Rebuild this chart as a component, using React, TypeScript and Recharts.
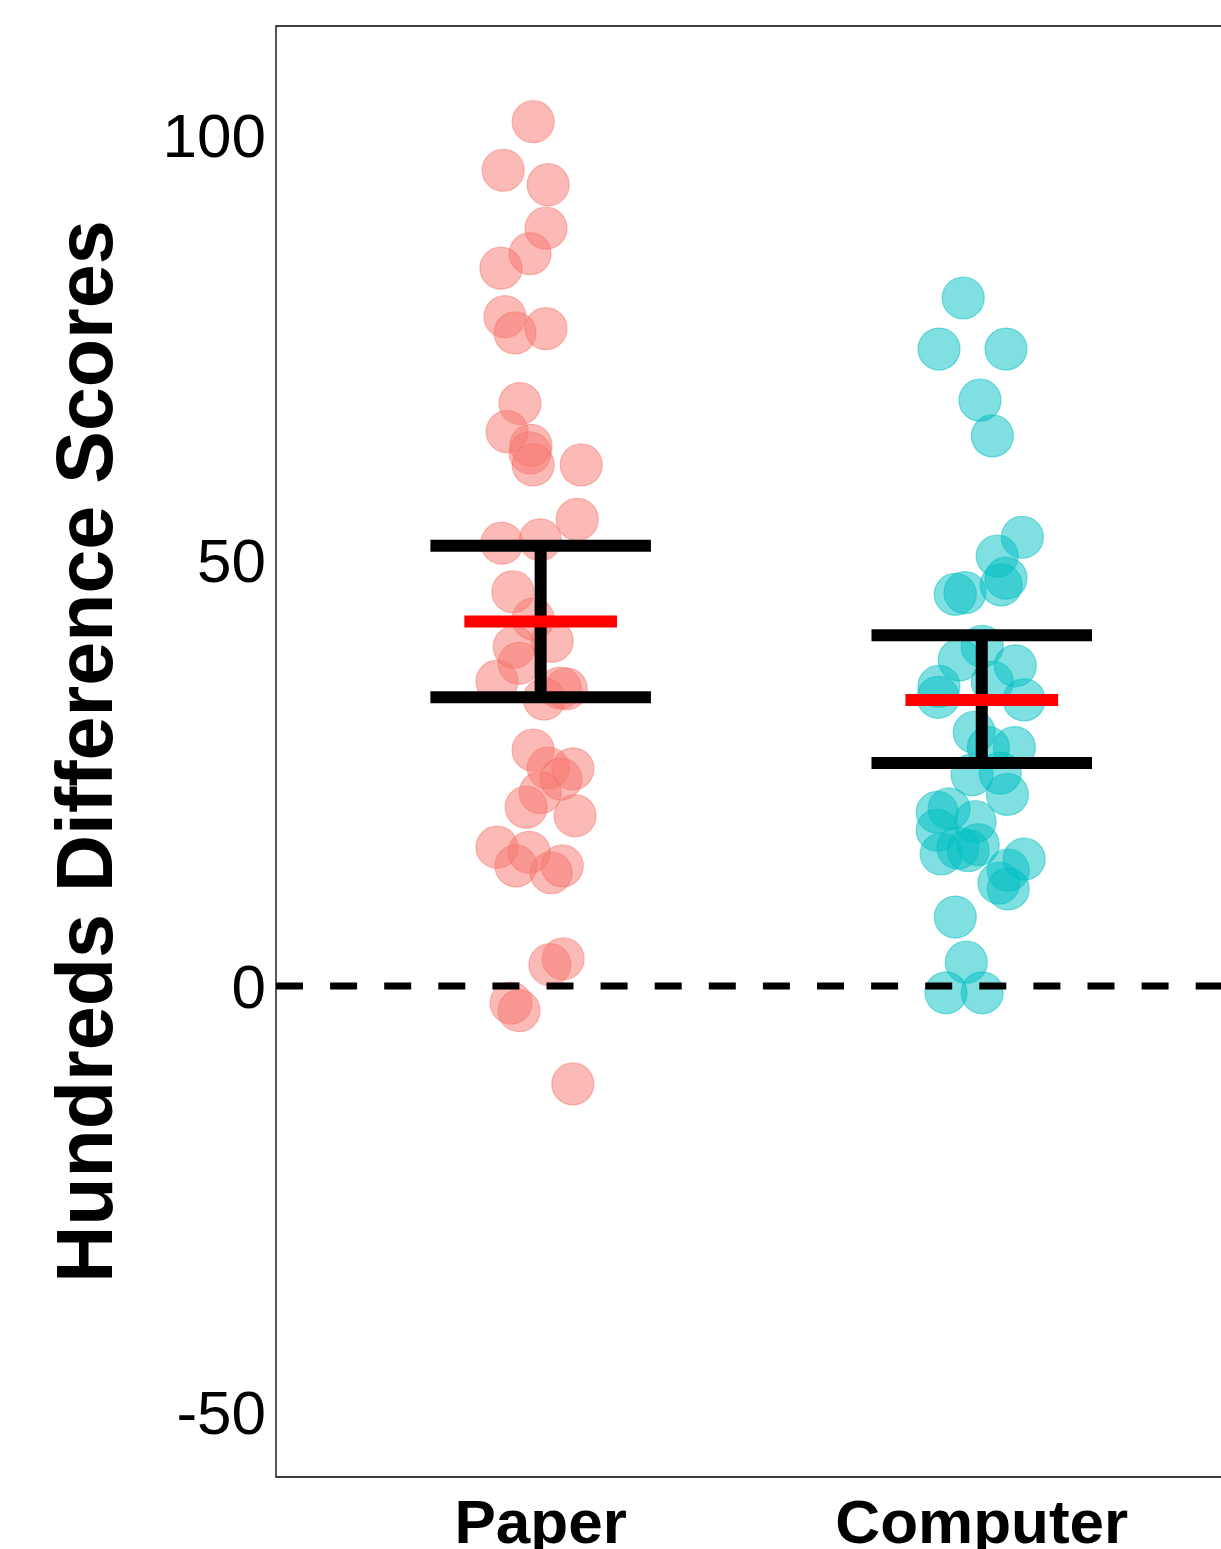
import React from 'react'
import {
  ScatterChart, Scatter, XAxis, YAxis, ReferenceLine, ReferenceArea, Label,
} from 'recharts'

// group names, one per x position
const categories = ['Paper', 'Computer']

// individual scores, with the horizontal jitter (in category units)
const paperScores = [101.5, 95.8, 94.1, 89.0, 86.0, 84.3, 78.6, 76.7, 77.2, 68.4, 65.1, 63.5, 62.6, 61.2, 61.2, 54.8, 52.0, 52.4, 46.3, 43.1, 40.5, 39.8, 37.9, 35.8, 34.9, 35.0, 33.7, 27.7, 25.6, 25.5, 24.3, 22.7, 21.0, 20.0, 16.3, 15.7, 14.1, 14.1, 13.3, 2.5, 3.2, -2.0, -2.9, -11.5]
const paperJitter = [-0.017, -0.085, 0.017, 0.012, -0.024, -0.090, -0.081, -0.058, 0.012, -0.047, -0.076, -0.022, -0.024, -0.017, 0.092, 0.083, -0.088, -0.001, -0.063, -0.017, 0.026, -0.060, -0.049, -0.099, 0.058, 0.044, 0.008, -0.017, 0.017, 0.073, 0.046, -0.001, -0.033, 0.078, -0.099, -0.026, -0.056, 0.049, 0.024, 0.021, 0.051, -0.067, -0.049, 0.073]

const computerScores = [80.8, 74.8, 74.8, 68.8, 64.6, 52.7, 50.5, 47.9, 47.1, 46.0, 46.2, 39.9, 38.3, 37.6, 35.2, 33.9, 35.7, 33.6, 29.8, 28.0, 28.0, 24.8, 25.0, 22.5, 20.8, 20.4, 19.3, 18.3, 16.2, 15.5, 15.9, 16.6, 14.9, 13.6, 12.1, 11.4, 8.1, 2.8, -0.8, -0.8]
const computerJitter = [-0.042, -0.097, 0.055, -0.004, 0.024, 0.092, 0.035, 0.055, 0.044, -0.060, -0.038, 0.001, -0.051, 0.076, -0.097, -0.099, 0.024, 0.096, -0.017, 0.015, 0.074, -0.022, 0.042, 0.058, -0.074, -0.101, -0.015, -0.101, -0.054, -0.092, -0.031, -0.008, 0.096, 0.060, 0.039, 0.060, -0.060, -0.035, -0.081, 0.001]

// group mean and interval ends
const means = [42.8, 33.6]
const lowers = [33.9, 26.2]
const uppers = [51.7, 41.2]

const yTicks = [-50, 0, 50, 100]

const COLORS = ['#F8766D', '#00BFC4']
const FONT = '"Liberation Sans", Arial, Helvetica, sans-serif'

const CHART_W = 1224
const CHART_H = 1549
const PLOT_LEFT = 276
const PLOT_TOP = 26
const X_AXIS_H = 72
const PLOT_BOTTOM = CHART_H - X_AXIS_H
const UNIT_PX = 441.1
const X_MIN = 0.4
const X_MAX = X_MIN + (CHART_W - PLOT_LEFT) / UNIT_PX
const Y_MIN = -57.66
const Y_MAX = 112.74
const CAP_HALF = 0.25
const MEAN_HALF = 0.173
const TOP_Z = 1500

const paperData = paperScores.map((v, i) => ({ x: 1 + paperJitter[i], y: v }))
const computerData = computerScores.map((v, i) => ({ x: 2 + computerJitter[i], y: v }))

const makeDot = (color: string) => (props: any) => (
  <circle
    cx={props.cx}
    cy={props.cy}
    r={21}
    fill={color}
    fillOpacity={0.5}
    stroke={color}
    strokeOpacity={0.5}
    strokeWidth={1.2}
  />
)

const XTick = ({ x, payload }: any) => (
  <text x={x} y={PLOT_BOTTOM + 66} textAnchor="middle" fontSize={62} fontWeight="bold" fontFamily={FONT} fill="#000">
    {categories[payload.value - 1]}
  </text>
)

const YTick = ({ y, payload }: any) => (
  <text x={PLOT_LEFT - 10} y={y} dy="0.358em" textAnchor="end" fontSize={62} fontFamily={FONT} fill="#000">
    {payload.value}
  </text>
)

const YTitle = ({ viewBox }: any) => {
  const cy = viewBox.y + viewBox.height / 2
  return (
    <text
      x={112}
      y={cy}
      transform={`rotate(-90, 112, ${cy})`}
      textAnchor="middle"
      fontSize={79}
      fontWeight="bold"
      fontFamily={FONT}
      fill="#000"
    >
      Hundreds Difference Scores
    </text>
  )
}

export default function App() {
  return (
    <div style={{ position: 'absolute', left: 0, top: 0, width: 1221, height: 1549, overflow: 'hidden', background: '#fff' }}>
      <ScatterChart width={CHART_W} height={CHART_H} margin={{ top: PLOT_TOP, right: 0, bottom: 0, left: 0 }}>
        <XAxis
          type="number"
          dataKey="x"
          domain={[X_MIN, X_MAX]}
          ticks={[1, 2]}
          interval={0}
          allowDataOverflow
          height={X_AXIS_H}
          axisLine={false}
          tickLine={false}
          tick={<XTick />}
        />
        <YAxis
          type="number"
          dataKey="y"
          domain={[Y_MIN, Y_MAX]}
          ticks={yTicks}
          interval={0}
          allowDataOverflow
          width={PLOT_LEFT}
          axisLine={false}
          tickLine={false}
          tick={<YTick />}
        >
          <Label content={<YTitle />} />
        </YAxis>

        <Scatter data={paperData} shape={makeDot(COLORS[0])} isAnimationActive={false} />
        <Scatter data={computerData} shape={makeDot(COLORS[1])} isAnimationActive={false} />

        <ReferenceLine y={0} stroke="#000" strokeWidth={7} strokeDasharray="27 27.1" zIndex={TOP_Z} />

        {categories.map((c, i) => (
          <ReferenceLine key={c + '-v'} segment={[{ x: i + 1, y: lowers[i] }, { x: i + 1, y: uppers[i] }]} stroke="#000" strokeWidth={12} zIndex={TOP_Z} />
        ))}
        {categories.map((c, i) => (
          <ReferenceLine key={c + '-u'} segment={[{ x: i + 1 - CAP_HALF, y: uppers[i] }, { x: i + 1 + CAP_HALF, y: uppers[i] }]} stroke="#000" strokeWidth={12} zIndex={TOP_Z} />
        ))}
        {categories.map((c, i) => (
          <ReferenceLine key={c + '-l'} segment={[{ x: i + 1 - CAP_HALF, y: lowers[i] }, { x: i + 1 + CAP_HALF, y: lowers[i] }]} stroke="#000" strokeWidth={12} zIndex={TOP_Z} />
        ))}
        {categories.map((c, i) => (
          <ReferenceLine key={c + '-m'} segment={[{ x: i + 1 - MEAN_HALF, y: means[i] }, { x: i + 1 + MEAN_HALF, y: means[i] }]} stroke="#FF0000" strokeWidth={12} zIndex={TOP_Z + 1} />
        ))}

        <ReferenceArea x1={X_MIN} x2={X_MAX} y1={Y_MIN} y2={Y_MAX} fill="none" stroke="#000" strokeWidth={1.3} zIndex={TOP_Z} />
      </ScatterChart>
    </div>
  )
}
